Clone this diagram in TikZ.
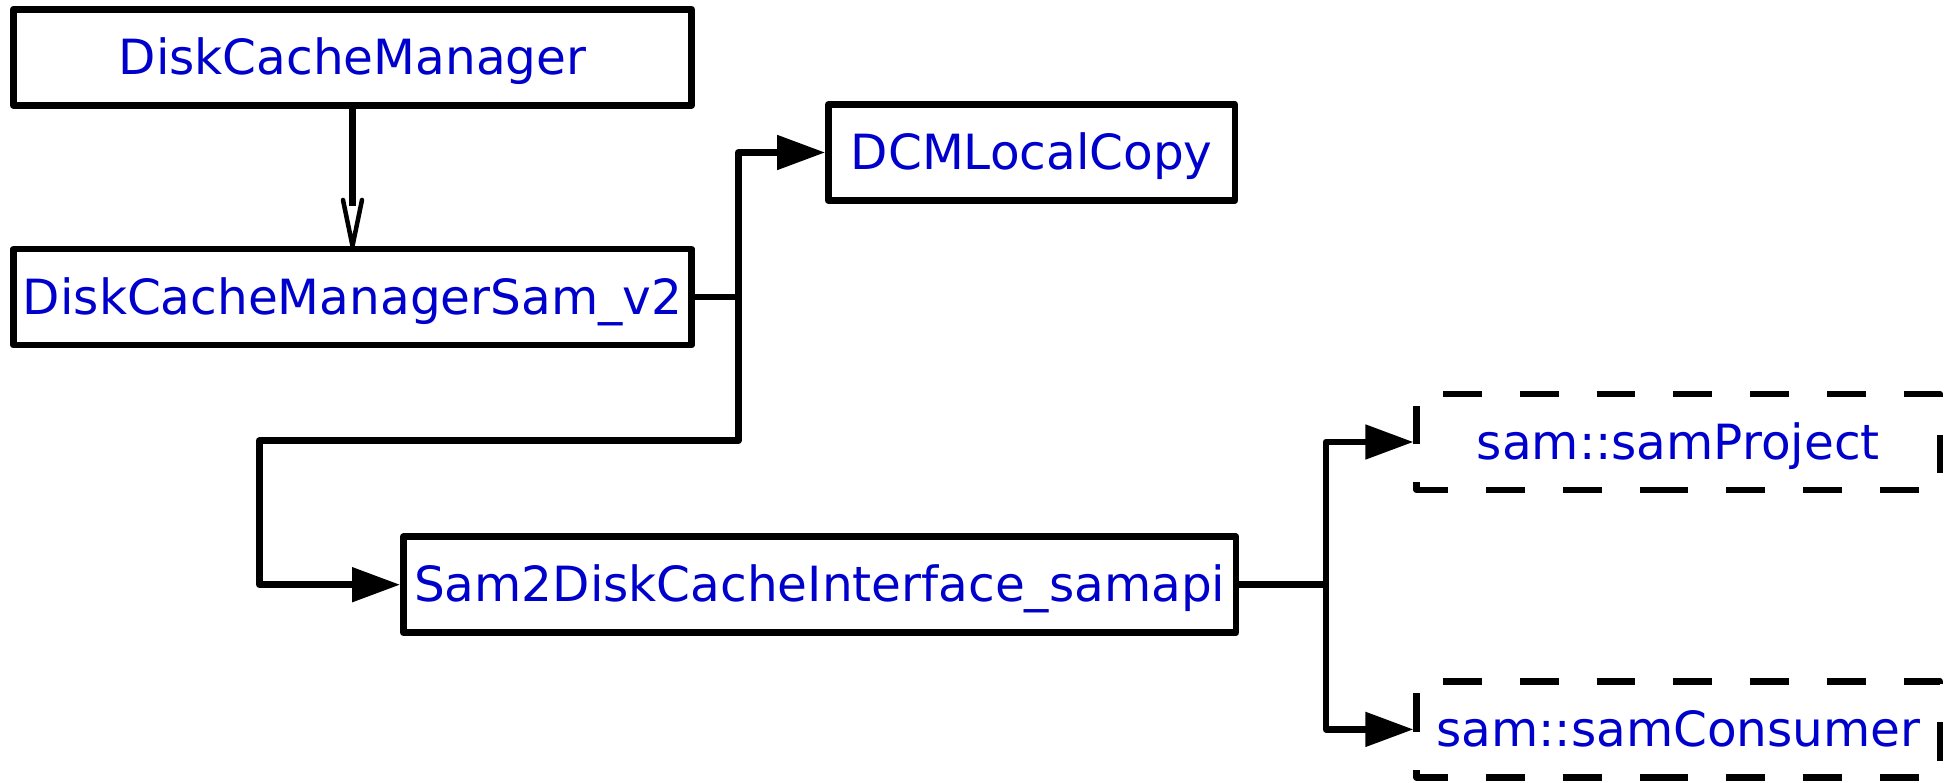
\documentclass[tikz,border=0pt]{standalone}
\usepackage{fontspec}
\setmainfont{DejaVu Sans}
\usetikzlibrary{arrows.meta}
\definecolor{labelblue}{RGB}{0,0,204}
\begin{document}
\begin{tikzpicture}[x=1pt,y=-1pt,
  box/.style={draw=black, line width=6.5pt, line join=round, rectangle, inner sep=0pt,
    minimum height=96pt, text height=40pt, text depth=6pt, text=labelblue,
    font=\fontsize{48.5}{58}\selectfont},
  extbox/.style={box, draw=none, outer sep=0pt},
  dashbox/.style={draw=black, line width=6.5pt, dash pattern=on 38.8pt off 38pt, line join=round},
  conn/.style={draw=black, line width=6.5pt, line join=round},
  tri/.style={-{Triangle[length=48pt,width=33.5pt]}},
  barb/.style={draw=black, line width=4.5pt, line cap=round, line join=round}]
\useasboundingbox (0,0) rectangle (1954,783);
% nodes
\node[box, minimum width=678.4pt] (dcm) at (352.5,57.3) {DiskCacheManager};
\node[box, minimum width=678.4pt] (sv2) at (352.5,297.2) {DiskCacheManagerSam\_v2};
\node[box, minimum width=406.7pt] (dlc) at (1031.7,152.5) {DCMLocalCopy};
\node[box, minimum width=832.7pt] (s2) at (819.7,584.7) {Sam2DiskCacheInterface\_samapi};
\node[extbox, minimum width=523.3pt] (sp) at (1678.3,442) {sam::samProject};
\node[extbox, minimum width=523.3pt] (sc) at (1678.3,729.4) {sam::samConsumer};
% dashed borders of external classes
\draw[dashbox] (sp.south) -- (sp.south west) -- (sp.north west) -- (sp.north east) -- (sp.south east) -- cycle;
\draw[dashbox] (sc.south) -- (sc.south west) -- (sc.north west) -- (sc.north east) -- (sc.south east) -- cycle;
% junction points
\coordinate (j1) at (738.3,297.2);
\coordinate (b1) at (259.3,440.7);
\coordinate (j2) at (1326,584.7);
% inheritance arrow
\draw[conn, shorten >=40pt] (dcm.south) -- (sv2.north);
\draw[barb] ([shift={(-9.5pt,46pt)}]sv2.north) -- (sv2.north) -- ([shift={(9.5pt,46pt)}]sv2.north);
% usage connectors
\draw[conn, tri] (sv2.east) -- (j1) |- (dlc.west);
\draw[conn, tri] (j1) |- (b1) |- (s2.west);
\draw[conn] (s2.east) -- (j2);
\draw[conn, tri, shorten >=3.25pt] (j2) |- (sp.west);
\draw[conn, tri, shorten >=3.25pt] (j2) |- (sc.west);
\end{tikzpicture}
\end{document}
